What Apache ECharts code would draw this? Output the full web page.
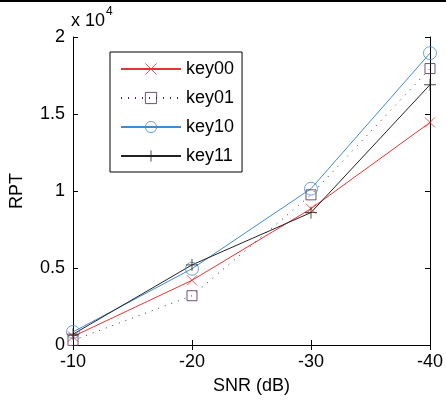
<!DOCTYPE html>
<html>
<head>
<meta charset="utf-8">
<script src="https://cdn.jsdelivr.net/npm/echarts@6/dist/echarts.min.js"></script>
<style>
  html, body { margin: 0; padding: 0; background: #fff; }
  #chart { width: 446px; height: 400px; }
</style>
</head>
<body>
<div id="chart"></div>
<script>
// SNR levels on the horizontal axis
const snrLevels = ['-10', '-20', '-30', '-40'];

// RPT for each key configuration
const key00 = [550, 4200, 8850, 14450];
const key01 = [300, 3200, 9750, 17950];
const key10 = [850, 4950, 10150, 18950];
const key11 = [700, 5200, 8600, 16900];

const yTicks = [0, 5000, 10000, 15000, 20000];

const FONT = 'Liberation Sans, Arial, sans-serif';
const crossPath = 'path://M0,0L10,10M10,0L0,10';
const plusPath = 'path://M5,0L5,10M0,5L10,5';

const chart = echarts.init(document.getElementById('chart'));

function strokeSymbolSeries(name, data, color, symbol, size, lineType) {
  return {
    name: name,
    type: 'line',
    data: data,
    symbol: symbol,
    symbolSize: size,
    showAllSymbol: true,
    lineStyle: { color: color, width: 1, type: lineType || 'solid' },
    itemStyle: { color: 'rgba(0,0,0,0)', borderColor: color, borderWidth: 0.8 },
    emphasis: { disabled: true },
    animation: false
  };
}

chart.setOption({
  animation: false,
  grid: { left: 71, right: 15, top: 37, bottom: 51 },
  legend: {
    left: 110,
    top: 52,
    orient: 'vertical',
    itemWidth: 60,
    itemHeight: 14,
    itemGap: 11,
    padding: [8, 8, 7, 10],
    borderColor: '#000',
    borderWidth: 1,
    backgroundColor: '#fff',
    itemStyle: { borderWidth: 0.8 },
    textStyle: { fontFamily: FONT, fontSize: 18, color: '#000' },
    data: ['key00', 'key01', 'key10', 'key11']
  },
  xAxis: [
    {
      type: 'category',
      data: snrLevels,
      boundaryGap: false,
      name: 'SNR (dB)',
      nameLocation: 'middle',
      nameGap: 32,
      nameTextStyle: { fontFamily: FONT, fontSize: 18, color: '#000' },
      axisLine: { lineStyle: { color: '#000', width: 1 } },
      axisTick: { inside: true, length: 5, lineStyle: { color: '#000' } },
      axisLabel: { fontFamily: FONT, fontSize: 18, color: '#000', margin: 8 },
      splitLine: { show: false }
    },
    {
      type: 'category',
      data: snrLevels,
      boundaryGap: false,
      position: 'top',
      axisLine: { lineStyle: { color: '#000', width: 1 } },
      axisTick: { inside: true, length: 5, lineStyle: { color: '#000' } },
      axisLabel: { show: false },
      splitLine: { show: false }
    }
  ],
  yAxis: [
    {
      type: 'value',
      min: yTicks[0],
      max: yTicks[yTicks.length - 1],
      interval: 5000,
      name: 'RPT',
      nameLocation: 'middle',
      nameGap: 47,
      nameTextStyle: { fontFamily: FONT, fontSize: 18, color: '#000' },
      axisLine: { show: true, lineStyle: { color: '#000', width: 1 } },
      axisTick: { show: true, inside: true, length: 5, lineStyle: { color: '#000' } },
      axisLabel: {
        fontFamily: FONT, fontSize: 18, color: '#000', margin: 8,
        formatter: v => String(v / 10000)
      },
      splitLine: { show: false }
    },
    {
      type: 'value',
      min: yTicks[0],
      max: yTicks[yTicks.length - 1],
      interval: 5000,
      position: 'right',
      axisLine: { show: true, lineStyle: { color: '#000', width: 1 } },
      axisTick: { show: true, inside: true, length: 5, lineStyle: { color: '#000' } },
      axisLabel: { show: false },
      splitLine: { show: false }
    }
  ],
  graphic: [
    { type: 'rect', left: 0, top: 0, shape: { width: 446, height: 2 }, style: { fill: '#000' } },
    {
      type: 'text', left: 71, top: 6,
      style: {
        text: '{base|x 10}{sup|4}',
        fill: '#000',
        rich: {
          base: { fontSize: 18, fontFamily: FONT, color: '#000', verticalAlign: 'bottom' },
          sup: { fontSize: 12, fontFamily: FONT, color: '#000', verticalAlign: 'top', padding: [0, 0, 12, 1] }
        }
      }
    }
  ],
  series: [
    strokeSymbolSeries('key00', key00, '#f03030', crossPath, 10),
    strokeSymbolSeries('key01', key01, '#4a2a4a', 'rect', 10, [1, 6]),
    strokeSymbolSeries('key10', key10, '#3f8ad4', 'circle', 13),
    strokeSymbolSeries('key11', key11, '#222222', plusPath, 12)
  ]
});
</script>
</body>
</html>
